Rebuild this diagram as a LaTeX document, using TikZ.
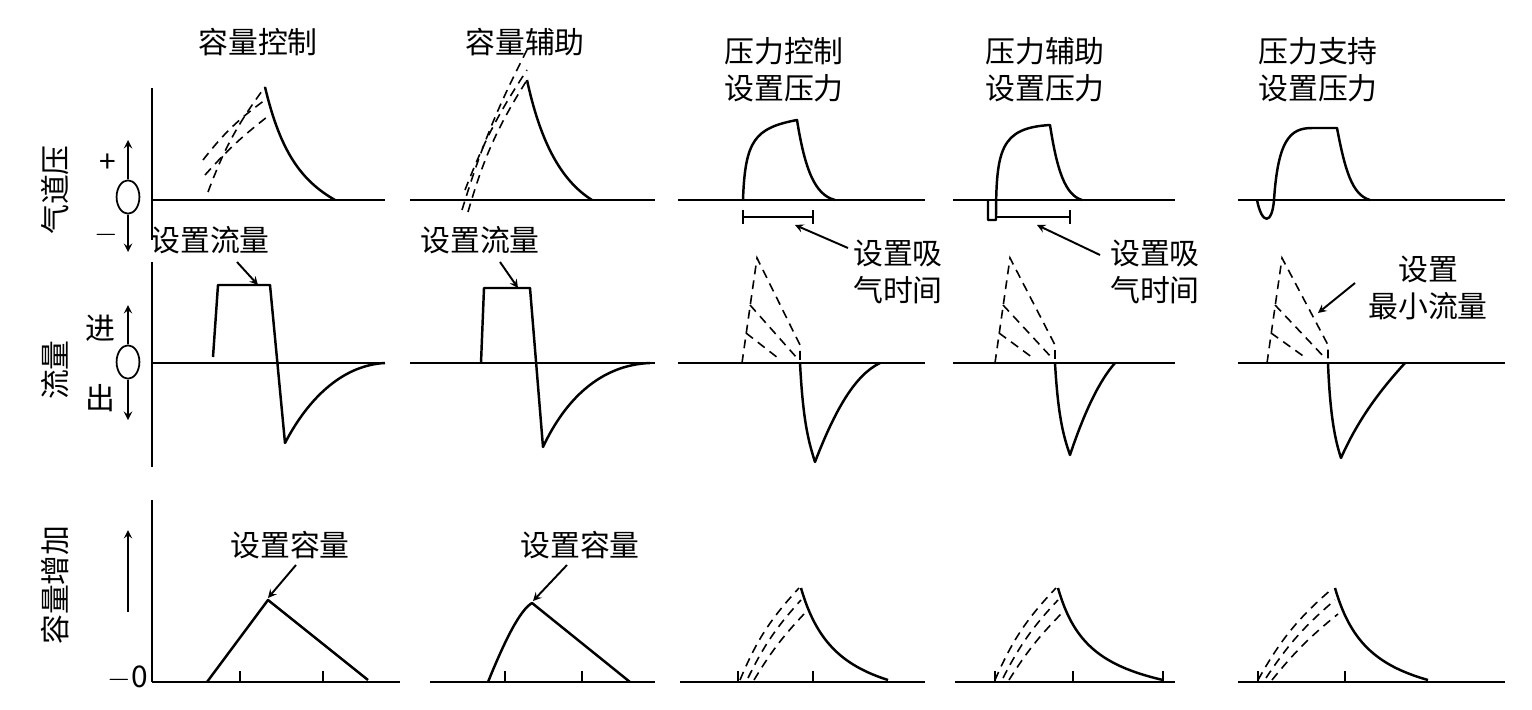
\documentclass[tikz,border=0pt]{standalone}
\usepackage{fontspec}
\usetikzlibrary{shapes.geometric}
\newfontfamily\cjk{Noto Sans CJK SC}
\tikzset{wave/.style = {line width=1.4pt, line join=round},
         ghost/.style = {line width=0.9pt, dash pattern=on 5pt off 3.5pt},
         axis/.style = {line width=1.2pt},
         lbl/.style = {font=\cjk\fontsize{17}{21}\selectfont, align=center, inner sep=1pt},
         zero/.style = {draw, ellipse, line width=1pt, minimum width=13pt, minimum height=19pt, inner sep=0pt},
         pointer/.style = {->, >=stealth, line width=1.1pt}}
\begin{document}
\begin{tikzpicture}[x=0.02cm,y=-0.02cm]
        \useasboundingbox (0,0) rectangle (1532,710);
        % titles
        \node[lbl](t1)at(258,42){容量控制};
        \node[lbl](t2)at(525,42){容量辅助};
        \node[lbl](t3)at(784,70){压力控制\\设置压力};
        \node[lbl](t4)at(1045,70){压力辅助\\设置压力};
        \node[lbl](t5)at(1318,70){压力支持\\设置压力};
        % left labels
        \node[lbl,rotate=90](lp)at(55,190){气道压};
        \node[lbl,rotate=90](lf)at(55,370){流量};
        \node[lbl,rotate=90](lv)at(55,585){容量增加};
        \node[lbl](plus)at(108,163){+};
        \node[lbl](minus)at(106,235){$-$};
        \node[lbl](jin)at(100,328){进};
        \node[lbl](chu)at(100,398){出};
        \node[lbl](zero)at(128,678){$-$0};
        \node[zero](o1)at(128,197){};
        \node[zero](o2)at(128,362){};
        \coordinate(o1u)at(128,140); \coordinate(o1d)at(128,252);
        \coordinate(o2u)at(128,305); \coordinate(o2d)at(128,420);
        \coordinate(v0)at(128,612); \coordinate(vu)at(128,530);
        \draw[pointer](o1.north)--(o1u); \draw[pointer](o1.south)--(o1d);
        \draw[pointer](o2.north)--(o2u); \draw[pointer](o2.south)--(o2d);
        \draw[pointer](v0)--(vu);
        % axes
        \draw[axis](152,88)--(152,240);
        \draw[axis](152,262)--(152,467);
        \draw[axis](152,500)--(152,682);
        \foreach \a/\b in {152/385,410/655,678/925,953/1175,1238/1505}{
            \draw[axis](\a,200)--(\b,200);
            \draw[axis](\a,363)--(\b,363);}
        \foreach \a/\b in {152/400,430/655,680/925,955/1175,1238/1505}
            \draw[axis](\a,682)--(\b,682);
        \foreach \t in {240,323,505,582,738,813,995,1073,1163,1258,1345}
            \draw[line width=1pt](\t,682)--(\t,671);
        % pressure row
        \draw[ghost](208,192) to[bend left=8] (265,87);
        \draw[ghost](203,160) to[bend left=8] (265,100);
        \draw[ghost](205,175) to[bend left=5] (267,117);
        \draw[wave](265,87) .. controls (280,150) and (300,180) .. (335,200);
        \draw[ghost](468,212) to[bend left=8] (527,80);
        \draw[ghost](462,210) to[bend left=5] (527,50);
        \draw[ghost](465,190) to[bend left=6] (527,70);
        \draw[wave](527,80) .. controls (540,140) and (560,180) .. (592,200);
        \draw[wave](743,200) .. controls (745,140) and (755,128) .. (797,120) .. controls (805,170) and (815,195) .. (835,200);
        \draw[wave](988,200)--(988,220)--(996,220) .. controls (996,150) and (1000,128) .. (1050,125) .. controls (1057,170) and (1065,195) .. (1082,200);
        \draw[wave](1257,200) .. controls (1262,225) and (1272,225) .. (1274,200) .. controls (1278,140) and (1290,128) .. (1312,128)--(1337,128) .. controls (1345,170) and (1352,195) .. (1370,200);
        % inspiratory time
        \draw[line width=1.1pt](743,210)--(743,224) (743,217)--(813,217) (813,210)--(813,224);
        \draw[line width=1.1pt](996,217)--(1070,217) (1070,210)--(1070,224);
        \coordinate(ti1)at(795,225); \coordinate(ti2)at(1037,225);
        \node[lbl](l1)at(898,272){设置吸\\气时间};
        \node[lbl](l2)at(1155,272){设置吸\\气时间};
        \draw[pointer](848,248)--(ti1);
        \draw[pointer](1100,255)--(ti2);
        % flow row
        \draw[wave](213,357)--(218,285)--(270,285)--(285,443) .. controls (310,395) and (345,365) .. (385,363);
        \draw[wave](481,363)--(484,288)--(530,288)--(543,447) .. controls (565,400) and (600,365) .. (650,363);
        \node[lbl](f1)at(210,240){设置流量};
        \node[lbl](f2)at(480,240){设置流量};
        \coordinate(pk1)at(258,285); \coordinate(pk2)at(518,288);
        \draw[pointer](237,262)--(pk1);
        \draw[pointer](500,262)--(pk2);
        \foreach \x/\r in {742/800,995/1055,1267/1328}{
            \draw[ghost](\x,363)--(\x+15,258)--(\r,345)--(\r,363);
            \draw[ghost](\x+8,305)--(\r-3,358);
            \draw[ghost](\x+4,333)--(\r-22,358);}
        \draw[wave](800,363) .. controls (803,420) and (808,440) .. (815,462) .. controls (835,410) and (855,375) .. (880,363);
        \draw[wave](1055,363) .. controls (1058,415) and (1063,435) .. (1070,455) .. controls (1085,410) and (1100,380) .. (1115,363);
        \draw[wave](1328,363) .. controls (1330,415) and (1335,440) .. (1341,458) .. controls (1360,415) and (1385,385) .. (1405,363);
        \node[lbl](l3)at(1428,288){设置\\最小流量};
        \coordinate(mf)at(1318,313);
        \draw[pointer](1355,283)--(mf);
        % volume row
        \draw[wave](207,682)--(268,600)--(368,680);
        \draw[wave](488,682) .. controls (505,640) and (520,610) .. (532,603)--(630,682);
        \node[lbl](v1)at(290,545){设置容量};
        \node[lbl](v2)at(580,545){设置容量};
        \coordinate(vp1)at(268,598); \coordinate(vp2)at(533,601);
        \draw[pointer](296,565)--(vp1);
        \draw[pointer](567,565)--(vp2);
        \foreach \x/\p/\e in {740/801/888,995/1058/1163,1258/1335/1428}{
            \draw[ghost](\x,680) to[bend left=10] (\p-2,588);
            \draw[ghost](\x+8,678) to[bend left=8] (\p,600);
            \draw[ghost](\x+14,680) to[bend left=6] (\p+3,614);
            \draw[wave](\p,588) .. controls (\p+15,640) and (\p+40,665) .. (\e,680);}
    \end{tikzpicture}
\end{document}
